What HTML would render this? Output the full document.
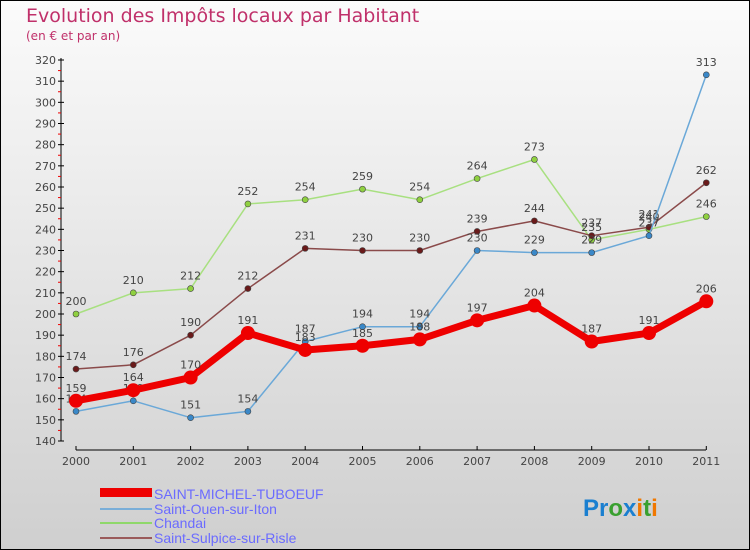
<!DOCTYPE html>
<html><head><meta charset="utf-8"><style>
body{margin:0}
#c{width:750px;height:550px;position:relative;box-sizing:border-box;border:1px solid #000;background:linear-gradient(#fbfbfb,#cfcfcf);font-family:"DejaVu Sans","Liberation Sans",sans-serif;overflow:hidden}
</style></head><body>
<div id="c">
<svg id="s" width="750" height="550" style="position:absolute;left:-1px;top:-1px">
<text x="26" y="22" font-size="19" fill="#c0306a">Evolution des Impôts locaux par Habitant</text>
<text x="26" y="40" font-size="12" fill="#c0306a">(en € et par an)</text>
<g id="g"></g>
<g>
<rect x="100" y="488" width="52" height="9" fill="#e00"/>
<line x1="100" y1="509" x2="152" y2="509" stroke="#7aaed8" stroke-width="2"/>
<line x1="100" y1="523" x2="152" y2="523" stroke="#8fd86a" stroke-width="2"/>
<line x1="100" y1="538" x2="152" y2="538" stroke="#9a5a5a" stroke-width="2"/>
<g font-size="14" fill="#6b6bff" font-family="Liberation Sans, sans-serif">
<text x="154" y="499">SAINT-MICHEL-TUBOEUF</text>
<text x="154" y="514">Saint-Ouen-sur-Iton</text>
<text x="154" y="528">Chandai</text>
<text x="154" y="543">Saint-Sulpice-sur-Risle</text>
</g></g>
<g font-size="24" font-family="Liberation Sans, sans-serif" font-weight="bold">
<text x="583" y="516"><tspan fill="#1a7fd0">Pr</tspan><tspan fill="#3aa030">o</tspan><tspan fill="#1a7fd0">x</tspan><tspan fill="#f07800">i</tspan><tspan fill="#3aa030">t</tspan><tspan fill="#f07800">i</tspan></text>
</g>
</svg>
</div>
<script>
const years=["2000","2001","2002","2003","2004","2005","2006","2007","2008","2009","2010","2011"];
const yTicks=[140,150,160,170,180,190,200,210,220,230,240,250,260,270,280,290,300,310,320];
const michel=[159,164,170,191,183,185,188,197,204,187,191,206];
const ouen=[154,159,151,154,187,194,194,230,229,229,237,313];
const chandai=[200,210,212,252,254,259,254,264,273,235,240,246];
const sulpice=[174,176,190,212,231,230,230,239,244,237,241,262];
const NS="http://www.w3.org/2000/svg";
const g=document.getElementById('g');
const X=i=>76+i*57.3;
const Y=v=>441-(v-140)*(381/180);
function mk(t,a,p){const e=document.createElementNS(NS,t);for(const k in a)e.setAttribute(k,a[k]);(p||g).appendChild(e);return e;}
// axes
let ax=mk('line',{x1:61,y1:58,x2:61,y2:441,stroke:'#000'});


let bx=mk('line',{x1:76,y1:450,x2:706,y2:450,stroke:'#000'});


yTicks.forEach(v=>{
  mk('line',{x1:58,y1:Y(v),x2:64,y2:Y(v),stroke:'#000'});
  if(v<320) mk('line',{x1:58,y1:Y(v+5),x2:61,y2:Y(v+5),stroke:'#e00'});
  const t=mk('text',{x:56,y:Y(v)+4,'font-size':11,fill:'#444','text-anchor':'end'});
  t.textContent=v;
  
  
});
years.forEach((y,i)=>{
  mk('line',{x1:X(i),y1:446,x2:X(i),y2:450,stroke:'#000'});
  const t=mk('text',{x:X(i),y:465,'font-size':11,fill:'#444','text-anchor':'middle'});
  t.textContent=y;
  
  
});
function series(d,color,w,r,name,dot){
  const pl=mk('polyline',{points:d.map((v,i)=>X(i)+','+Y(v)).join(' '),fill:'none',stroke:color,'stroke-width':w,'stroke-linejoin':'round'});
  
  
  d.forEach((v,i)=>{
    const c=mk('circle',{cx:X(i),cy:Y(v),r:r,fill:dot,stroke:'#444','stroke-width':r>4?0:0.6});
    
    
    const t=mk('text',{x:X(i),y:Y(v)-9,'font-size':11,fill:'#444','text-anchor':'middle'});
    t.textContent=v;
    
    
  });
}
series(chandai,'#a8e080',1.5,3,'chandai','#8fd040');
series(sulpice,'#8a4a4a',1.5,3,'saint-sulpice','#6a1a1a');
series(ouen,'#6aa8d8',1.5,3,'saint-ouen','#3a88c8');
series(michel,'#ee0000',7,7,'saint-michel','#ee0000');
</script>
</body></html>
